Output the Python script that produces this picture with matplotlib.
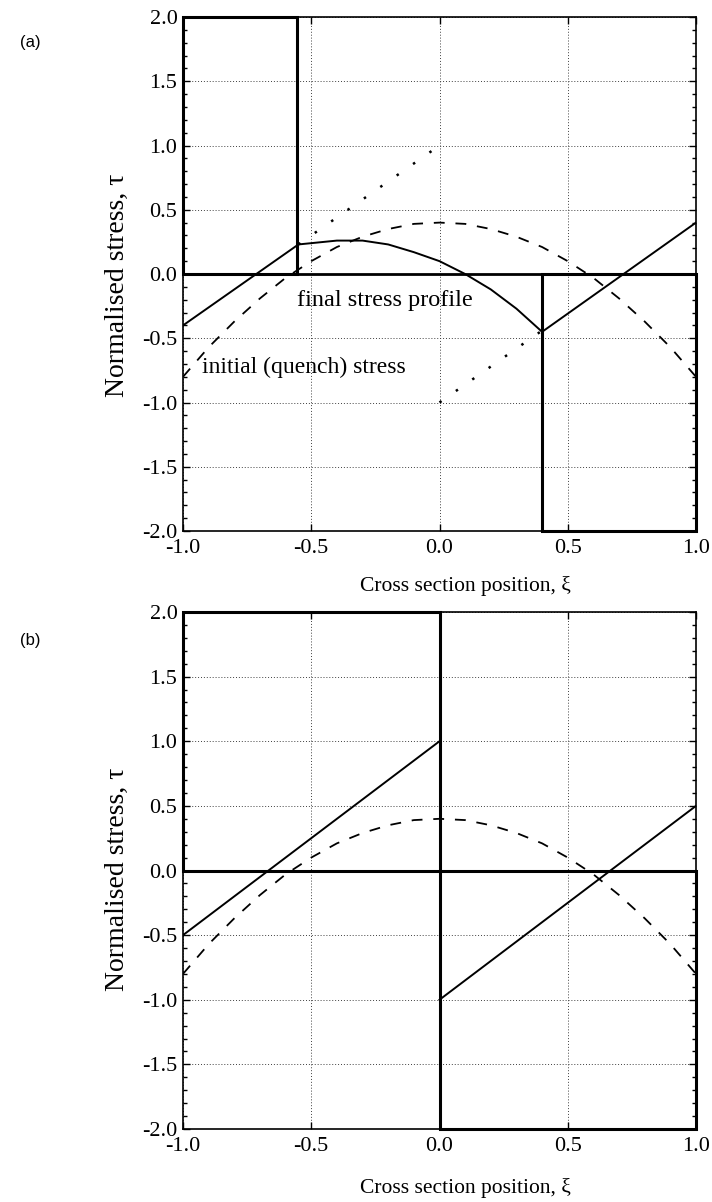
"""
Residual stress profiles across the section, before and after unloading
"""
import numpy as np
import matplotlib
matplotlib.use("Agg")
import matplotlib.pyplot as plt
from matplotlib.patches import Rectangle

plt.rcParams['font.family'] = ['Liberation Serif', 'DejaVu Serif']
plt.rcParams['axes.unicode_minus'] = False

xi_q = [-1.0, -0.9, -0.8, -0.7, -0.6, -0.5, -0.4, -0.3, -0.2, -0.1, 0.0,
        0.1, 0.2, 0.3, 0.4, 0.5, 0.6, 0.7, 0.8, 0.9, 1.0]
tau_q = [-0.80, -0.57, -0.37, -0.19, -0.03, 0.10, 0.21, 0.29, 0.35, 0.39, 0.40,
         0.39, 0.35, 0.29, 0.21, 0.10, -0.03, -0.19, -0.37, -0.57, -0.80]

# (a) final stress profile
xi_a = [-1.0, -0.55, -0.5, -0.45, -0.4, -0.35, -0.3, -0.2, -0.1, 0.0,
        0.1, 0.2, 0.3, 0.4, 1.0]
tau_a = [-0.40, 0.23, 0.24, 0.25, 0.26, 0.26, 0.26, 0.23, 0.17, 0.10,
         0.00, -0.12, -0.27, -0.45, 0.40]
# elastic unloading lines continued through the middle
dot_a1_x, dot_a1_y = [-0.55, 0.0], [0.23, 1.00]
dot_a2_x, dot_a2_y = [0.0, 0.4], [-1.00, -0.44]
# yielded zones (x0, x1, y0, y1)
zones_a = [(-1.0, -0.555, 0.0, 2.0), (0.4, 1.0, -2.0, 0.0)]

# (b) final stress profile, two branches
xi_b1, tau_b1 = [-1.0, 0.0], [-0.5, 1.0]
xi_b2, tau_b2 = [0.0, 1.0], [-1.0, 0.5]
zones_b = [(-1.0, 0.0, 0.0, 2.0), (0.0, 1.0, -2.0, 0.0)]

W, H = 712, 1202
fig = plt.figure(figsize=(W / 100, H / 100), dpi=100)

def setup(ax):
    ax.set_xlim(-1, 1)
    ax.set_ylim(-2, 2)
    ax.set_xticks(np.arange(-1, 1.01, 0.5))
    ax.set_yticks(np.arange(-2, 2.01, 0.5))
    ax.set_yticks(np.arange(-2, 2.01, 0.1), minor=True)
    ax.set_xticklabels(['-1.0', '-0.5', '0.0', '0.5', '1.0'])
    ax.set_yticklabels(['-2.0', '-1.5', '-1.0', '-0.5', '0.0', '0.5', '1.0', '1.5', '2.0'])
    ax.tick_params(which='both', direction='in', top=True, right=True, labelsize=16,
                   width=1.0, color='k')
    ax.tick_params(which='major', length=5, pad=4)
    ax.tick_params(axis='x', which='major', pad=6)
    ax.tick_params(which='minor', length=3)
    ax.grid(True, which='major', color='0.25', lw=0.7, ls=(0, (1, 2)))
    for s in ax.spines.values():
        s.set_linewidth(1.2)
    ax.axhline(0, color='k', lw=2.0, zorder=4)

def zones(ax, zz):
    for x0, x1, y0, y1 in zz:
        ax.add_patch(Rectangle((x0, y0), x1 - x0, y1 - y0, fill=False,
                               ec='k', lw=2.2, zorder=4, clip_on=False))

# panel (a)
ax1 = fig.add_axes([183 / W, 1 - 531 / H, 513 / W, 514 / H])
setup(ax1)
zones(ax1, zones_a)
ax1.plot(xi_q, tau_q, color='k', lw=1.3, ls=(0, (6, 6)), zorder=5)
ax1.plot(xi_a, tau_a, color='k', lw=1.4, zorder=5)
ax1.plot(dot_a1_x, dot_a1_y, color='k', lw=1.8, ls=(0, (1, 7)), zorder=5)
ax1.plot(dot_a2_x, dot_a2_y, color='k', lw=1.8, ls=(0, (1, 7)), zorder=5)
ax1.text(-0.554, -0.21, 'final stress profile', fontsize=17.5, va='center', ha='left')
ax1.text(-0.925, -0.73, 'initial (quench) stress', fontsize=17, va='center', ha='left')

# panel (b)
ax2 = fig.add_axes([183 / W, 1 - 1129 / H, 513 / W, 517 / H])
setup(ax2)
zones(ax2, zones_b)
ax2.plot(xi_q, tau_q, color='k', lw=1.3, ls=(0, (6, 6)), zorder=5)
ax2.plot(xi_b1, tau_b1, color='k', lw=1.4, zorder=5)
ax2.plot(xi_b2, tau_b2, color='k', lw=1.4, zorder=5)

for yc, yx in [(285, 586), (879, 1188)]:
    fig.text(117 / W, 1 - yc / H, 'Normalised stress, \u03c4', rotation=90,
             ha='center', va='center', fontsize=20)
    fig.text(465 / W, 1 - yx / H, 'Cross section position, \u03be',
             ha='center', va='center', fontsize=15.5)

fig.text(30 / W, 1 - 42 / H, '(a)', family=['Liberation Sans', 'DejaVu Sans'],
         fontsize=12, ha='center', va='center')
fig.text(30 / W, 1 - 641 / H, '(b)', family=['Liberation Sans', 'DejaVu Sans'],
         fontsize=12, ha='center', va='center')

fig.savefig('out.png', dpi=100)
